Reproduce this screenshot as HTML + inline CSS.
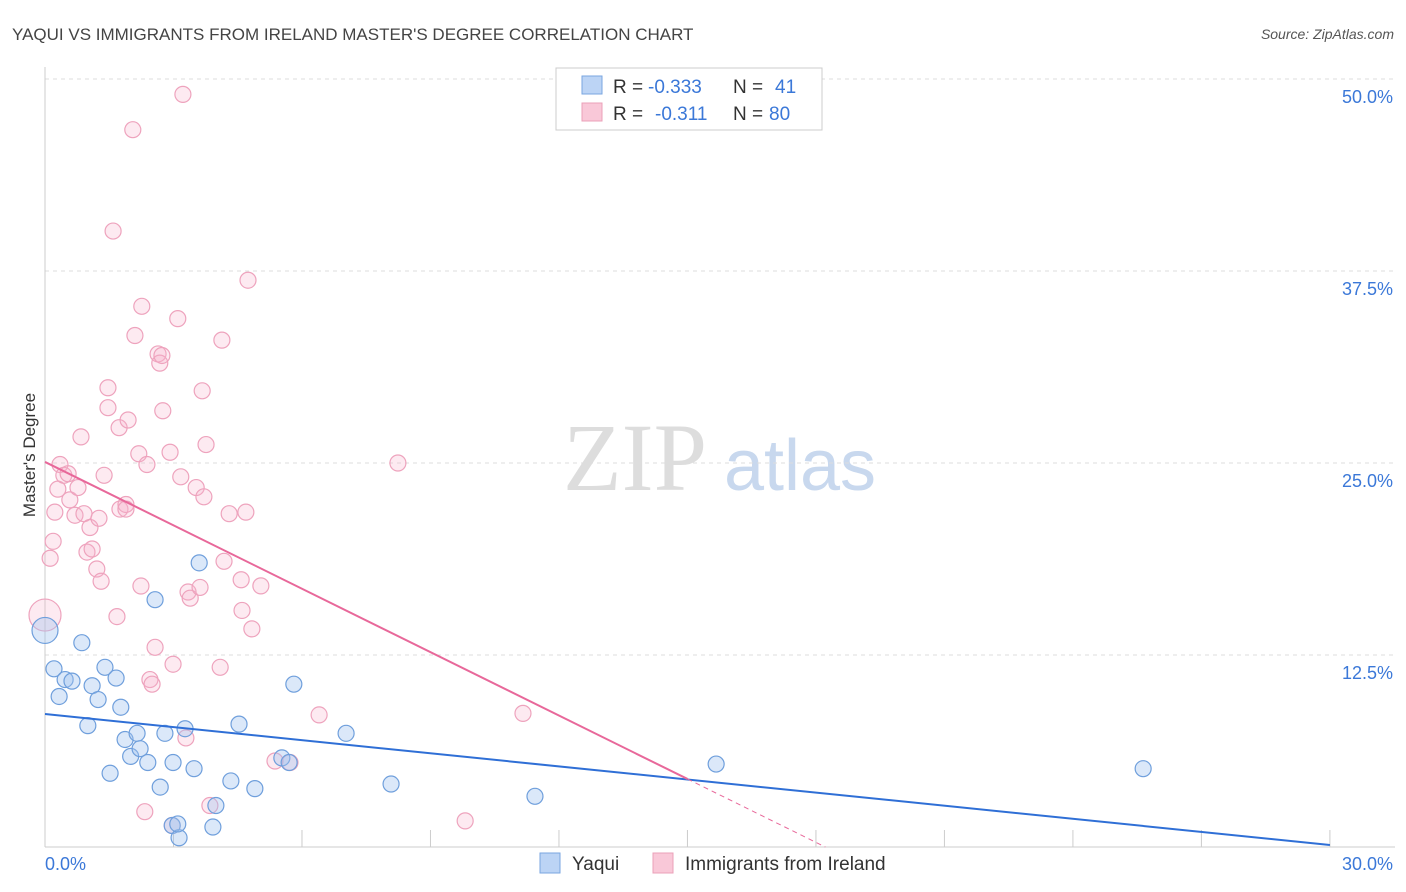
<!DOCTYPE html>
<html><head><meta charset="utf-8"><style>
body{margin:0;background:#fff;font-family:"Liberation Sans",sans-serif;}
svg{display:block}
</style></head><body>
<svg id="c" width="1406" height="892">
<text x="12" y="40" font-size="17" fill="#444">YAQUI VS IMMIGRANTS FROM IRELAND MASTER'S DEGREE CORRELATION CHART</text>
<text x="1394" y="39" font-size="14" fill="#555" font-style="italic" text-anchor="end">Source: ZipAtlas.com</text>
<text x="35" y="455" font-size="17" fill="#333" text-anchor="middle" transform="rotate(-90 35 455)">Master's Degree</text>
<g><text x="635" y="490" font-size="96" fill="#ddd" font-family="Liberation Serif" text-anchor="middle">ZIP</text><text x="800" y="490" font-size="72" fill="#c8d8ee" text-anchor="middle">atlas</text></g>
<g id="grid"></g><g id="marks"></g>
<g>
<rect x="556" y="68" width="266" height="62" fill="#fff" stroke="#ccc"/>
<rect x="582" y="76" width="20" height="18" fill="#bcd4f5" stroke="#7aa6e0"/>
<rect x="582" y="103" width="20" height="18" fill="#f9c8d8" stroke="#eba0b8"/>
<text x="613" y="93" font-size="19" fill="#333">R =</text>
<text x="648" y="93" font-size="19" fill="#3b78d8">-0.333</text>
<text x="733" y="93" font-size="19" fill="#333">N =</text>
<text x="775" y="93" font-size="19" fill="#3b78d8">41</text>
<text x="613" y="120" font-size="19" fill="#333">R =</text>
<text x="655" y="120" font-size="19" fill="#3b78d8">-0.311</text>
<text x="733" y="120" font-size="19" fill="#333">N =</text>
<text x="769" y="120" font-size="19" fill="#3b78d8">80</text>
</g>
<g>
<rect x="540" y="853" width="20" height="20" fill="#bcd4f5" stroke="#7aa6e0"/>
<text x="572" y="870" font-size="19" fill="#333">Yaqui</text>
<rect x="653" y="853" width="20" height="20" fill="#f9c8d8" stroke="#eba0b8"/>
<text x="685" y="870" font-size="19" fill="#333">Immigrants from Ireland</text>
</g>
</svg>
<script>
const xTicks=[0,30];
const yTicks=[12.5,25,37.5,50];
const blueX=[0,0.21,0.33,0.47,0.63,0.86,1.0,1.1,1.24,1.4,1.52,1.66,1.77,1.87,2.0,2.15,2.22,2.4,2.57,2.69,2.8,2.97,2.99,3.13,3.27,3.48,3.6,3.92,3.99,4.34,4.53,4.9,5.53,5.7,5.81,7.03,8.08,11.44,15.67,25.64,3.1];
const blueY=[14.1,11.6,9.8,10.9,10.8,13.3,7.9,10.5,9.6,11.7,4.8,11.0,9.1,7.0,5.9,7.4,6.4,5.5,16.1,3.9,7.4,1.4,5.5,0.6,7.7,5.1,18.5,1.3,2.7,4.3,8.0,3.8,5.8,5.5,10.6,7.4,4.1,3.3,5.4,5.1,1.5];
const pinkX=[0,0.12,0.19,0.23,0.3,0.35,0.44,0.54,0.58,0.7,0.77,0.84,0.91,0.98,1.05,1.1,1.21,1.31,1.38,1.47,1.47,1.59,1.68,1.73,1.75,1.89,1.94,2.05,2.1,2.19,2.24,2.26,2.38,2.45,2.5,2.57,2.64,2.68,2.73,2.75,2.92,2.99,3.1,3.17,3.22,3.29,3.34,3.39,3.53,3.62,3.67,3.71,3.76,3.85,4.09,4.13,4.18,4.3,4.58,4.6,4.69,4.74,4.83,5.04,5.72,6.4,8.24,9.81,11.16,2.33,2.97,5.37,1.89,1.26];
const pinkY=[15.1,18.8,19.9,21.8,23.3,24.9,24.2,24.3,22.6,21.6,23.4,26.7,21.7,19.2,20.8,19.4,18.1,17.3,24.2,28.6,29.9,40.1,15.0,27.3,22.0,22.3,27.8,46.7,33.3,25.6,16.99,35.2,24.9,10.9,10.6,13.0,32.1,31.5,32.0,28.4,25.7,11.9,34.4,24.1,49.0,7.1,16.6,16.2,23.4,16.9,29.7,22.8,26.2,2.7,11.7,33.0,18.6,21.7,17.4,15.4,21.8,36.9,14.2,17.0,5.5,8.6,25.0,1.7,8.7,2.3,1.4,5.6,22.0,21.4];
const blueLine=[8.66,0.13];
const pinkLine=[25.07,-1.376];
const X=v=>45+v*42.83, Y=v=>847-v*15.36;
const NS="http://www.w3.org/2000/svg";
function mk(t,a,p){const e=document.createElementNS(NS,t);for(const k in a)e.setAttribute(k,a[k]);p.appendChild(e);return e;}
const g=document.getElementById('grid'), m=document.getElementById('marks');
yTicks.forEach(v=>{
 const l=mk('line',{x1:45,x2:1395,y1:Y(v),y2:Y(v),stroke:'#ddd','stroke-dasharray':'4 4'},g);
 
 
 const t=mk('text',{x:1393,y:Y(v)+24,'font-size':18,fill:'#3b78d8','text-anchor':'end'},g);t.textContent=v.toFixed(1)+'%';
 
 
});
const ax=mk('line',{x1:45,x2:45,y1:67,y2:847,stroke:'#ccc'},g);


const bx=mk('line',{x1:45,x2:1395,y1:847,y2:847,stroke:'#ccc'},g);


for(let i=1;i<=10;i++){const tk=mk('line',{x1:X(i*3),x2:X(i*3),y1:830,y2:847,stroke:'#ccc'},g);
 
 }
xTicks.forEach((v,i)=>{const t=mk('text',{x:i?1393:45,y:870,'font-size':18,fill:'#3b78d8','text-anchor':i?'end':'start'},g);t.textContent=v.toFixed(1)+'%';
 
 });
pinkX.forEach((x,i)=>{const c=mk('circle',{cx:X(x),cy:Y(pinkY[i]),r:i==0?16:8,fill:'rgba(248,180,203,0.28)',stroke:'#eea3bd','stroke-width':1.2},m);
 
 });
blueX.forEach((x,i)=>{const c=mk('circle',{cx:X(x),cy:Y(blueY[i]),r:i==0?13:8,fill:'rgba(160,195,240,0.38)',stroke:'#6f9fdc','stroke-width':1.2},m);
 
 });
const bl=mk('line',{x1:X(0),y1:Y(blueLine[0]),x2:X(30),y2:Y(blueLine[1]),stroke:'#2f6fd6','stroke-width':2},m);


const pz=-pinkLine[0]/pinkLine[1];
const pl=mk('line',{x1:X(0),y1:Y(pinkLine[0]),x2:X(15),y2:Y(pinkLine[0]+pinkLine[1]*15),stroke:'#e8689a','stroke-width':2},m);


const pd=mk('line',{x1:X(15),y1:Y(pinkLine[0]+pinkLine[1]*15),x2:X(pz),y2:Y(0),stroke:'#e8689a','stroke-width':1,'stroke-dasharray':'5 4'},m);


</script>
</body></html>
